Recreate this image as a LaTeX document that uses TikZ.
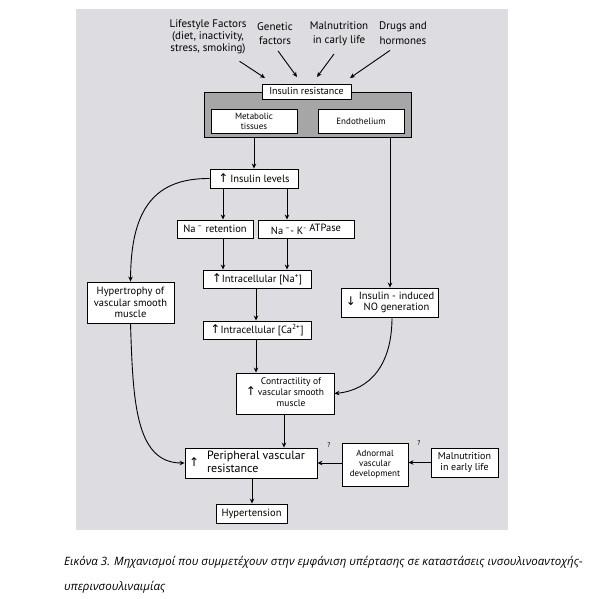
\documentclass[tikz,border=0pt]{standalone}
\usepackage{fontspec}
\setmainfont{PT Sans}
\newfontfamily\symfont{DejaVu Sans}
\newfontfamily\capfont{Open Sans}
\usetikzlibrary{arrows.meta,calc}
\definecolor{panelgray}{HTML}{DDDDE1}
\definecolor{darkbox}{HTML}{A6A6A6}
\newcommand\myup{{\symfont\fontsize{12}{12}\selectfont ↑}}
\newcommand\mydown{{\symfont\fontsize{12}{12}\selectfont ↓}}
\tikzset{
  bx/.style={draw, fill=white, line width=0.9pt, inner sep=0pt, align=center, font=\fontsize{10.5}{11.5}\selectfont},
  sbx/.style={bx, font=\fontsize{9}{10}\selectfont},
  arr/.style={-{Stealth[length=5pt,width=4.5pt]}, line width=0.9pt},
  lbl/.style={align=center, inner sep=0pt},
  qm/.style={inner sep=0pt, font=\fontsize{7}{8}\selectfont}
}
\begin{document}
\begin{tikzpicture}[x=1pt,y=-1pt]
\useasboundingbox (0,0) rectangle (616,599);
\fill[white] (0,0) rectangle (616,599);
\fill[panelgray] (76,9) rectangle (508,530);
% top factors
\node[lbl, font=\fontsize{11}{12}\selectfont] (life) at (208,37) {Lifestyle Factors\\(diet, inactivity,\\stress, smoking)};
\node[lbl, font=\fontsize{11}{14.5}\selectfont] (gen) at (275,33.5) {Genetic\\factors};
\node[lbl, font=\fontsize{11}{14.5}\selectfont] (mal) at (339,33.5) {Malnutrition\\in carly life};
\node[lbl, font=\fontsize{11}{14.5}\selectfont] (drug) at (403,33) {Drugs and\\hormones};
% insulin resistance panel
\node[draw, fill=darkbox, line width=0.9pt, minimum width=207, minimum height=45, inner sep=0pt] (panel) at (307.5,114.5) {};
\node[bx, minimum width=89, minimum height=15, font=\fontsize{10}{11}\selectfont] (ir) at (306.5,91.5) {Insulin resistance};
\node[sbx, minimum width=86, minimum height=24] (met) at (254,121) {Metabolic\\tissues};
\node[sbx, minimum width=86, minimum height=24] (endo) at (361,121) {Endothelium};
\coordinate (a1) at (265,78);
\coordinate (a2) at (297,77);
\coordinate (a3) at (317,77);
\coordinate (a4) at (350,78);
\draw[arr] ($(life.south east)+(-7,7)$) -- (a1);
\draw[arr] ($(gen.south)+(3,6)$) -- (a2);
\draw[arr] ($(mal.south)+(-5,8)$) -- (a3);
\draw[arr] ($(drug.south)+(-13,6)$) -- (a4);
% main chain
\node[bx, minimum width=88, minimum height=19] (il) at (254,178.5) {\myup\,Insulin levels};
\node[bx, minimum width=76, minimum height=18] (nar) at (215,229) {Na\,\textsuperscript{--} retention};
\node[bx, minimum width=96, minimum height=18] (atp) at (306,229) {Na\,\textsuperscript{--}- K\textsuperscript{-} \raisebox{3pt}{ATPase}};
\node[bx, minimum width=108, minimum height=18] (ina) at (257,279) {\myup Intracellular [Na\textsuperscript{+}]};
\node[bx, minimum width=108, minimum height=18] (ica) at (257,330) {\myup Intracellular [Ca\textsuperscript{2+}]};
\node[bx, minimum width=87, minimum height=41] (hyp) at (130.5,302.5) {Hypertrophy of\\vascular smooth\\muscle};
\node[bx, minimum width=97, minimum height=29] (no) at (390,302.5) {\mydown\hspace{3pt}\begin{tabular}{@{}c@{}}Insulin - induced\\NO generation\end{tabular}};
\node[bx, minimum width=98, minimum height=41, font=\fontsize{9.5}{11}\selectfont] (con) at (285,393.5) {\myup\hspace{2pt}\begin{tabular}{@{}c@{}}Contractility of\\vascular smooth\\muscle\end{tabular}};
\node[bx, minimum width=132, minimum height=30, font=\fontsize{12}{13}\selectfont] (pvr) at (251,463) {\myup\hspace{8pt}\begin{tabular}{@{}l@{}}Peripheral vascular\\resistance\end{tabular}\hspace{8pt}};
\node[sbx, minimum width=66, minimum height=43] (adn) at (375,464.5) {Adnormal\\vascular\\development};
\node[bx, minimum width=67, minimum height=29, font=\fontsize{10}{11.5}\selectfont] (mal2) at (464.5,462.5) {Malnutrition\\in early life};
\node[bx, minimum width=71, minimum height=19] (hyt) at (251.5,513.5) {Hypertension};
\node[qm] (q1) at (329,445) {?};
\node[qm] (q2) at (419,443) {?};
% connectors
\draw[arr] (panel.south -| met.south) -- (il.north);
\draw[arr] (panel.south -| no.north) -- (no.north);
\draw[arr] ([xshift=-31]il.south) -- ([xshift=-31]il.south |- nar.north);
\draw[arr] ([xshift=33]il.south) -- ([xshift=33]il.south |- atp.north);
\draw[arr] ([xshift=8]nar.south) -- ([xshift=8]nar.south |- ina.north);
\draw[arr] ([xshift=-19]atp.south) -- ([xshift=-19]atp.south |- ina.north);
\draw[arr] ([xshift=-1]ina.south) -- ([xshift=-1]ica.north);
\draw[arr] ([xshift=-1]ica.south) -- ([xshift=-1]ica.south |- con.north);
\draw[arr] ([xshift=-1]con.south) -- ([xshift=-1]con.south |- pvr.north);
\draw[arr] ([xshift=1]pvr.south) -- ([xshift=1]pvr.south |- hyt.north);
\draw[arr] (mal2.west) -- (mal2.west -| adn.east);
\draw[arr] (adn.west |- pvr.east) -- (pvr.east);
\draw[arr] (il.west) .. controls (150,178) and (131,215) .. (hyp.north);
\draw[arr] (hyp.south) .. controls (133,400) and (135,463) .. (pvr.west);
\draw[arr] ([xshift=2]no.south) .. controls (392,365) and (370,390) .. (con.east);
% caption
\node[anchor=base west, inner sep=0pt, font=\capfont\itshape\fontsize{11.5}{13}\selectfont] (cap1) at (64,565) {Εικόνα 3. Μηχανισμοί που συμμετέχουν στην εμφάνιση υπέρτασης σε καταστάσεις ινσουλινοαντοχής-};
\node[anchor=base west, inner sep=0pt, font=\capfont\itshape\fontsize{11.5}{13}\selectfont] (cap2) at (64,590) {υπερινσουλιναιμίας};
\end{tikzpicture}
\end{document}
